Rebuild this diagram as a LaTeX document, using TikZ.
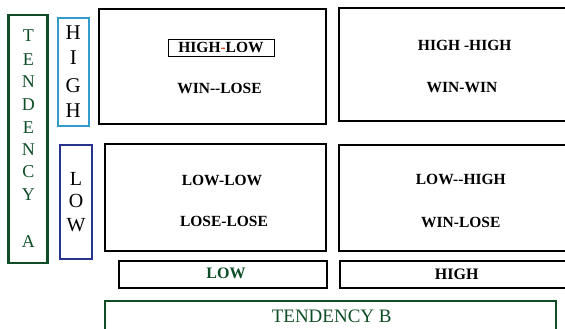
\documentclass[tikz,border=0pt]{standalone}
\usepackage{fontspec}
\setmainfont{Liberation Serif}
\definecolor{dgreen}{RGB}{14,78,38}
\definecolor{lblue}{RGB}{52,155,205}
\definecolor{dblue}{RGB}{40,52,140}
\definecolor{hred}{RGB}{225,70,30}
\begin{document}
\begin{tikzpicture}[x=1pt,y=-1pt,
  box/.style={draw, line width=2.2pt, inner sep=0pt, outer sep=0pt},
  qtext/.style={inner sep=0pt, font=\fontsize{15.5}{18}\selectfont\bfseries},
  btext/.style={inner sep=0pt, font=\fontsize{16}{19}\selectfont\bfseries},
  vletter/.style={inner sep=0pt},
]
\useasboundingbox (0,0) rectangle (565,329);
\clip (0,0) rectangle (565,329);
% Tendency A
\node[box, draw=dgreen, line width=2.6pt, minimum width=39pt, minimum height=247.6pt] (ta) at (28.2,139) {};
\foreach \l/\y [count=\i] in {T/35.7,E/60,N/82,D/105,E/128,N/150,C/172,Y/195,A/242}
  \node[vletter, text=dgreen, font=\fontsize{18}{20}\selectfont] (ta\i) at (28.3,\y) {\l};
% High box
\node[box, draw=lblue, minimum width=31pt, minimum height=108pt] (hb) at (73.5,72) {};
\foreach \l/\y [count=\i] in {H/32.5,I/58,G/86,H/110.5}
  \node[vletter, font=\fontsize{21}{23}\selectfont] (hb\i) at (73.3,\y) {\l};
% Low box
\node[box, draw=dblue, minimum width=32pt, minimum height=114pt] (lb) at (76,202) {};
\foreach \l/\y [count=\i] in {L/179,O/200.7,W/225}
  \node[vletter, font=\fontsize{20}{22}\selectfont] (lb\i) at (76,\y) {\l};
% Quadrants
\node[box, minimum width=227pt, minimum height=115pt] (tl) at (212.5,66.5) {};
\node[box, minimum width=236pt, minimum height=113pt] (tr) at (457,64.5) {};
\node[box, minimum width=221pt, minimum height=107pt] (bl) at (215.5,197.5) {};
\node[box, minimum width=236pt, minimum height=106pt] (br) at (457,198) {};
% Quadrant texts
\node[qtext, draw, line width=0.8pt, minimum width=106pt, minimum height=17pt] (hl) at (221,47.5) {HIGH\textcolor{hred}{-}LOW};
\node[qtext] (wl) at (219.5,88) {WIN-{}-LOSE};
\node[qtext] (hh) at (464.7,45.5) {HIGH -HIGH};
\node[qtext] (ww) at (462,87.5) {WIN-WIN};
\node[qtext] (ll) at (222,180.3) {LOW-LOW};
\node[qtext] (lsl) at (224,221.7) {LOSE-LOSE};
\node[qtext] (lh) at (460.8,179.5) {LOW-{}-HIGH};
\node[qtext] (wls) at (460.8,222.5) {WIN-LOSE};
% Bars
\node[box, minimum width=208pt, minimum height=27pt] (lowbar) at (223,274.5) {};
\node[btext, text=dgreen] (lowt) at (226,273.8) {LOW};
\node[box, minimum width=235pt, minimum height=27pt] (highbar) at (457.5,274.5) {};
\node[btext] (hight) at (456.7,274.7) {HIGH};
% Tendency B
\node[box, draw=dgreen, line width=2.6pt, minimum width=451pt, minimum height=39pt] (tb) at (330.5,320.5) {};
\node[inner sep=0pt, text=dgreen, font=\fontsize{19}{21}\selectfont] (tbt) at (331.7,316.7) {TENDENCY B};
\end{tikzpicture}
\end{document}
